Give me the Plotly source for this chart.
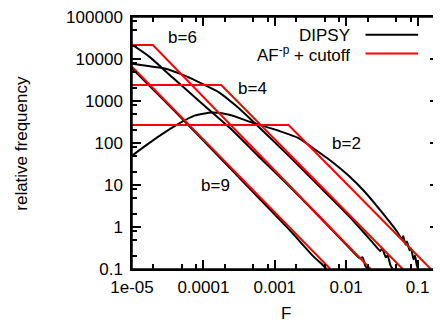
import math
import plotly.graph_objects as go

# ---- data ----
# DIPSY (black) curves (ragged tails as seen in the picture)
F_dipsy_b2 = [1e-5, 2.08e-5, 4.18e-5, 7.5e-5, 1.33e-4, 2.3e-4, 4.8e-4, 1.14e-3, 2.15e-3,
              3.67e-3, 6.6e-3, 0.0107, 0.0182, 0.0327, 0.0527, 0.06, 0.063, 0.068, 0.071,
              0.0774, 0.081, 0.088, 0.092, 0.098, 0.103]
Y_dipsy_b2 = [50, 124, 267, 448, 530, 472, 308, 195, 131,
              70, 34, 17, 6.9, 2.1, 0.74, 0.52, 0.6, 0.38, 0.45,
              0.28, 0.31, 0.17, 0.21, 0.12, 0.1]

F_dipsy_b4 = [1e-5, 1.78e-5, 2.7e-5, 5.8e-5, 1.03e-4, 1.67e-4, 2.87e-4, 4.8e-4, 1.56e-3,
              3.67e-3, 0.0107, 0.0237, 0.03, 0.032, 0.036, 0.038, 0.042, 0.045]
Y_dipsy_b4 = [7660, 6700, 6080, 3870, 2420, 1590, 766, 343, 50,
              11.7, 1.9, 0.42, 0.27, 0.31, 0.19, 0.21, 0.12, 0.1]

F_dipsy_b6 = [1e-5, 1.78e-5, 3.7e-5, 9.7e-5, 2.3e-4, 6e-4, 1.56e-3, 4.08e-3, 0.0107,
              0.0156, 0.017, 0.0185, 0.0202]
Y_dipsy_b6 = [22000, 11100, 3610, 851, 236, 47, 9.7, 1.85, 0.34,
              0.18, 0.19, 0.12, 0.1]

F_dipsy_b9 = [1e-5, 4.18e-5, 2.3e-4, 1.56e-3, 3.48e-3, 4.6e-3, 5.27e-3]
Y_dipsy_b9 = [6010, 526, 26.2, 0.90, 0.20, 0.13, 0.1]

# AF^-p + cutoff (red) lines
F_fit_b6 = [1e-5, 1.96e-5, 0.0220]
Y_fit_b6 = [21500, 21500, 0.1]
F_fit_b4 = [1e-5, 1.78e-4, 0.0619]
Y_fit_b4 = [2390, 2390, 0.1]
F_fit_b2 = [1e-5, 1.56e-3, 0.153]
Y_fit_b2 = [267, 267, 0.1]
F_fit_b9 = [1e-5, 0.0060]
Y_fit_b9 = [6600, 0.1]

x_tickvals = [1e-5, 1e-4, 1e-3, 1e-2, 1e-1]
x_ticktext = ["1e-05", "0.0001", "0.001", "0.01", "0.1"]
y_tickvals = [0.1, 1, 10, 100, 1000, 10000, 100000]
y_ticktext = ["0.1", "1", "10", "100", "1000", "10000", "100000"]

curve_labels = ["b=6", "b=4", "b=2", "b=9"]
curve_label_F = [5.02e-5, 4.94e-4, 1.016e-2, 1.5e-4]
curve_label_Y = [32000, 2000, 100, 9.6]

FONT = "Liberation Sans, Arial, sans-serif"

fig = go.Figure()
for F, Y in [(F_dipsy_b2, Y_dipsy_b2), (F_dipsy_b4, Y_dipsy_b4),
             (F_dipsy_b6, Y_dipsy_b6), (F_dipsy_b9, Y_dipsy_b9)]:
    fig.add_trace(go.Scatter(x=F, y=Y, mode="lines", showlegend=False,
                             line=dict(color="black", width=2, shape="spline", smoothing=0.6)))
for F, Y in [(F_fit_b6, Y_fit_b6), (F_fit_b4, Y_fit_b4),
             (F_fit_b2, Y_fit_b2), (F_fit_b9, Y_fit_b9)]:
    fig.add_trace(go.Scatter(x=F, y=Y, mode="lines", showlegend=False,
                             line=dict(color="#ff0000", width=2)))

minor_x = [m * 10 ** d for d in range(-5, 0) for m in (2, 5, 8)]
minor_y = [m * 10 ** d for d in range(-1, 5) for m in (2, 5, 8)]

axis_common = dict(showline=True, linecolor="black", linewidth=1.5, mirror="ticks",
                   ticks="inside", ticklen=9, tickwidth=1.5, tickcolor="black",
                   showgrid=False, zeroline=False, ticklabeloverflow="allow",
                   tickfont=dict(family=FONT, size=17, color="black"))

fig.update_xaxes(type="log", range=[-5, math.log10(0.2)], tickmode="array",
                 tickvals=x_tickvals, ticktext=x_ticktext, ticklabelstandoff=2,
                 minor=dict(tickmode="array", tickvals=minor_x, ticks="inside",
                            ticklen=5, tickwidth=1.5, tickcolor="black"),
                 **axis_common)
fig.update_yaxes(type="log", range=[-1, 5], tickmode="array",
                 tickvals=y_tickvals, ticktext=y_ticktext, ticklabelstandoff=4,
                 minor=dict(tickmode="array", tickvals=minor_y, ticks="inside",
                            ticklen=5, tickwidth=1.5, tickcolor="black"),
                 **axis_common)

annotations = []
for t, fx, fy in zip(curve_labels, curve_label_F, curve_label_Y):
    annotations.append(dict(x=math.log10(fx), y=math.log10(fy), xref="x", yref="y",
                            text=t, showarrow=False, xanchor="center", yanchor="middle",
                            font=dict(family=FONT, size=17, color="black")))

# page has an 8px body margin; plot area spans window x 132..441, y 11..269
OFF = 8
W_PLOT, H_PLOT = 309.0, 258.0
def px(xp):
    return (xp - 132) / W_PLOT
def py(yp):
    return (269 - yp) / H_PLOT

annotations.append(dict(x=px(20), y=0.5, xref="paper", yref="paper", text="relative frequency",
                        textangle=-90, showarrow=False, xanchor="center", yanchor="middle",
                        font=dict(family=FONT, size=17, color="black")))
annotations.append(dict(x=0.5, y=py(315), xref="paper", yref="paper", text="F",
                        showarrow=False, xanchor="center", yanchor="middle",
                        font=dict(family=FONT, size=17, color="black")))
annotations.append(dict(x=px(353), y=py(29.5), xref="paper", yref="paper", text="DIPSY",
                        showarrow=False, xanchor="right", yanchor="middle",
                        font=dict(family=FONT, size=17, color="black")))
annotations.append(dict(x=px(353), y=py(49), xref="paper", yref="paper",
                        text="AF<sup>-p</sup> + cutoff",
                        showarrow=False, xanchor="right", yanchor="middle",
                        font=dict(family=FONT, size=17, color="black")))

shapes = [
    dict(type="line", xref="paper", yref="paper", x0=px(367), x1=px(420), y0=py(29.3), y1=py(29.3),
         line=dict(color="black", width=2)),
    dict(type="line", xref="paper", yref="paper", x0=px(367), x1=px(420), y0=py(48.3), y1=py(48.3),
         line=dict(color="#ff0000", width=2)),
    # frame around the plotting area
    dict(type="rect", xref="paper", yref="paper", x0=0, x1=1, y0=0, y1=1,
         line=dict(color="black", width=1.5), layer="above"),
]

fig.update_layout(width=441 - OFF, height=326 - OFF,
                  margin=dict(l=132 - OFF, r=0, t=11 - OFF, b=326 - 269),
                  paper_bgcolor="white", plot_bgcolor="white",
                  annotations=annotations, shapes=shapes, showlegend=False,
                  font=dict(family=FONT, size=17, color="black"))

fig.write_html("out.html")
